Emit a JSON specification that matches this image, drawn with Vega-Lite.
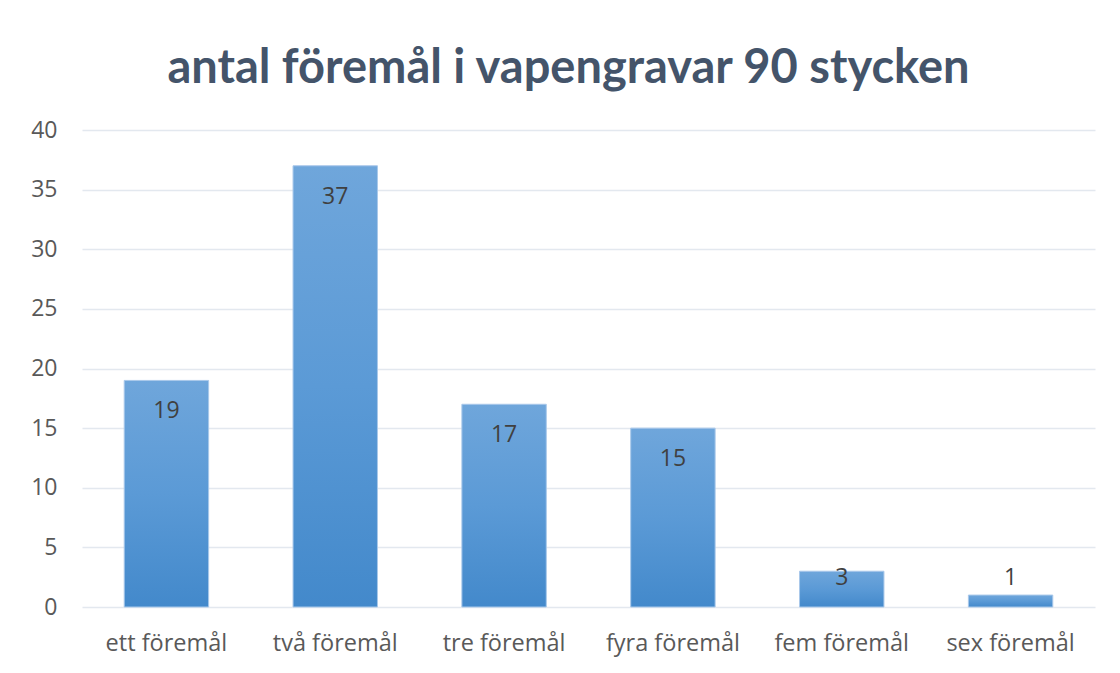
{
  "$schema": "https://vega.github.io/schema/vega-lite/v6.json",
  "width": 1013,
  "height": 477,
  "autosize": {"type": "none"},
  "padding": {"left": 82, "top": 130, "right": 25, "bottom": 66},
  "background": "white",
  "title": {
    "text": "antal föremål i vapengravar 90 stycken",
    "font": "Lato",
    "fontSize": 47,
    "fontWeight": "bold",
    "color": "#44546a",
    "anchor": "middle",
    "dx": -20,
    "offset": 26
  },
  "data": {
    "values": [
      {"kategori": "ett föremål", "antal": 19},
      {"kategori": "två föremål", "antal": 37},
      {"kategori": "tre föremål", "antal": 17},
      {"kategori": "fyra föremål", "antal": 15},
      {"kategori": "fem föremål", "antal": 3},
      {"kategori": "sex föremål", "antal": 1}
    ]
  },
  "encoding": {
    "x": {
      "field": "kategori",
      "type": "nominal",
      "sort": null,
      "scale": {"paddingInner": 0.5, "paddingOuter": 0.25},
      "axis": {
        "title": null,
        "labelAngle": 0,
        "labelFont": "Open Sans",
        "labelFontSize": 23.5,
        "labelColor": "#595959",
        "labelPadding": 24,
        "ticks": false,
        "domain": false
      }
    }
  },
  "layer": [
    {
      "mark": {
        "type": "bar",
        "stroke": "#a9c8ea",
        "strokeWidth": 1,
        "color": {
          "gradient": "linear",
          "x1": 0, "y1": 0, "x2": 0, "y2": 1,
          "stops": [
            {"offset": 0, "color": "#6fa6db"},
            {"offset": 0.5, "color": "#5b9ad6"},
            {"offset": 1, "color": "#4389cb"}
          ]
        }
      },
      "encoding": {
        "y": {
          "field": "antal",
          "type": "quantitative",
          "scale": {"domain": [0, 40], "nice": false},
          "axis": {
            "title": null,
            "values": [0, 5, 10, 15, 20, 25, 30, 35, 40],
            "labelFont": "Open Sans",
            "labelFontSize": 23,
            "labelColor": "#595959",
            "labelPadding": 25,
            "ticks": false,
            "domain": false,
            "grid": true,
            "gridColor": "#e3e8ef",
            "gridWidth": 1.5
          }
        }
      }
    },
    {
      "transform": [
        {"calculate": "max(datum.antal - 2.6, 2.43)", "as": "etikettpos"}
      ],
      "mark": {
        "type": "text",
        "font": "Open Sans",
        "fontSize": 23,
        "color": "#404040",
        "baseline": "middle",
        "align": "center"
      },
      "encoding": {
        "y": {"field": "etikettpos", "type": "quantitative"},
        "text": {"field": "antal", "type": "quantitative"}
      }
    }
  ],
  "config": {
    "view": {"stroke": null}
  }
}
